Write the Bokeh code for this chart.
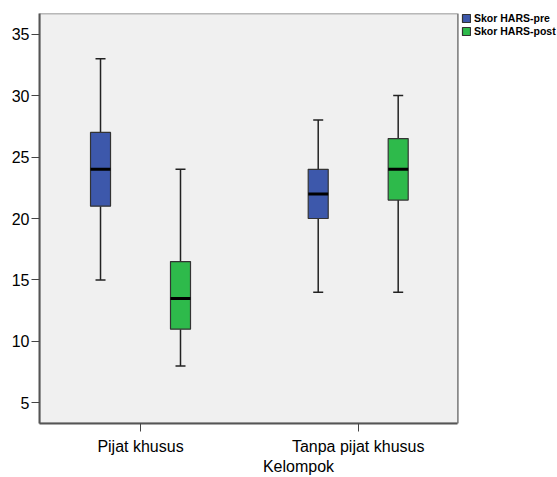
from bokeh.plotting import figure
from bokeh.models import Range1d, FixedTicker, Legend, LegendItem, ColumnDataSource, BoxAnnotation
from bokeh.embed import file_html
from bokeh.resources import INLINE

groups = ["Pijat khusus", "Tanpa pijat khusus"]
series = ["Skor HARS-pre", "Skor HARS-post"]
pre_lower = [15, 14]
pre_q1 = [21, 20]
pre_med = [24, 22]
pre_q3 = [27, 24]
pre_upper = [33, 28]
post_lower = [8, 14]
post_q1 = [11, 21.5]
post_med = [13.5, 24]
post_q3 = [16.5, 26.5]
post_upper = [24, 30]
y_ticks = [5, 10, 15, 20, 25, 30, 35]
x_title = "Kelompok"

FONT = "Liberation Sans"
colors = ["#3D58AB", "#2EBA4B"]
offsets = [-0.1837, 0.1837]
box_w = 0.0919
cap_w = 0.046
x_start = 0.536
panel_end = 2.458   # right edge of the grey plotting panel
x_end = 2.9155      # extra room on the right for the legend

p = figure(width=557, height=477, output_backend="svg", toolbar_location=None,
           x_range=Range1d(x_start, x_end), y_range=Range1d(3.33, 36.67),
           min_border_left=39, min_border_right=0, min_border_top=13, min_border_bottom=52)
p.background_fill_color = "white"
p.border_fill_color = "white"
p.outline_line_color = None
p.xgrid.visible = False
p.ygrid.visible = False

p.add_layout(BoxAnnotation(right=panel_end, fill_color="#F0F0F0", fill_alpha=1,
                           line_color="#777777", line_alpha=1, line_width=1.5, level="underlay"))

items = []
stats = [(pre_lower, pre_q1, pre_med, pre_q3, pre_upper),
         (post_lower, post_q1, post_med, post_q3, post_upper)]
for si, (lo, q1, med, q3, up) in enumerate(stats):
    xs = [i + 1 + offsets[si] for i in range(len(groups))]
    src = ColumnDataSource(dict(x=xs, lo=lo, q1=q1, med=med, q3=q3, up=up,
                                xl=[x - cap_w / 2 for x in xs], xr=[x + cap_w / 2 for x in xs],
                                bl=[x - box_w / 2 for x in xs], br=[x + box_w / 2 for x in xs]))
    p.segment(x0="x", y0="q3", x1="x", y1="up", source=src, line_color="#222222", line_width=1.5)
    p.segment(x0="x", y0="q1", x1="x", y1="lo", source=src, line_color="#222222", line_width=1.5)
    p.segment(x0="xl", y0="up", x1="xr", y1="up", source=src, line_color="#222222", line_width=1.5)
    p.segment(x0="xl", y0="lo", x1="xr", y1="lo", source=src, line_color="#222222", line_width=1.5)
    r = p.quad(left="bl", right="br", bottom="q1", top="q3", source=src,
               fill_color=colors[si], line_color="#333333", line_width=1.2)
    p.segment(x0="bl", y0="med", x1="br", y1="med", source=src, line_color="black", line_width=3)
    items.append(LegendItem(label=series[si], renderers=[r]))

p.xaxis.ticker = FixedTicker(ticks=[1, 2])
p.xaxis.major_label_overrides = {1: groups[0], 2: groups[1]}
p.xaxis.bounds = (x_start, panel_end)
p.yaxis.ticker = FixedTicker(ticks=y_ticks)
for ax in (p.xaxis, p.yaxis):
    ax.minor_tick_line_color = None
    ax.major_tick_in = 0
    ax.major_tick_out = 8
    ax.axis_line_color = "#555555"
    ax.axis_line_width = 2
    ax.major_tick_line_color = "#444444"
    ax.major_label_text_font = FONT
    ax.major_label_text_font_size = "16px"
    ax.major_label_text_color = "black"
p.yaxis.major_label_standoff = 2
p.xaxis.major_label_standoff = 6
p.xaxis.axis_label = x_title
p.xaxis.axis_label_text_font = FONT
p.xaxis.axis_label_text_font_size = "16px"
p.xaxis.axis_label_text_font_style = "normal"
p.xaxis.axis_label_text_color = "black"
p.xaxis.axis_label_standoff = 0

legend = Legend(items=items, location=(422, 386), padding=0, margin=0, spacing=1,
                glyph_width=10, glyph_height=10, label_height=12, label_standoff=3,
                label_text_font=FONT, label_text_font_size="10.5px", label_text_font_style="bold",
                label_text_color="black",
                background_fill_alpha=0, border_line_color=None)
p.add_layout(legend, "center")

open("out.html", "w").write(file_html(p, INLINE))
